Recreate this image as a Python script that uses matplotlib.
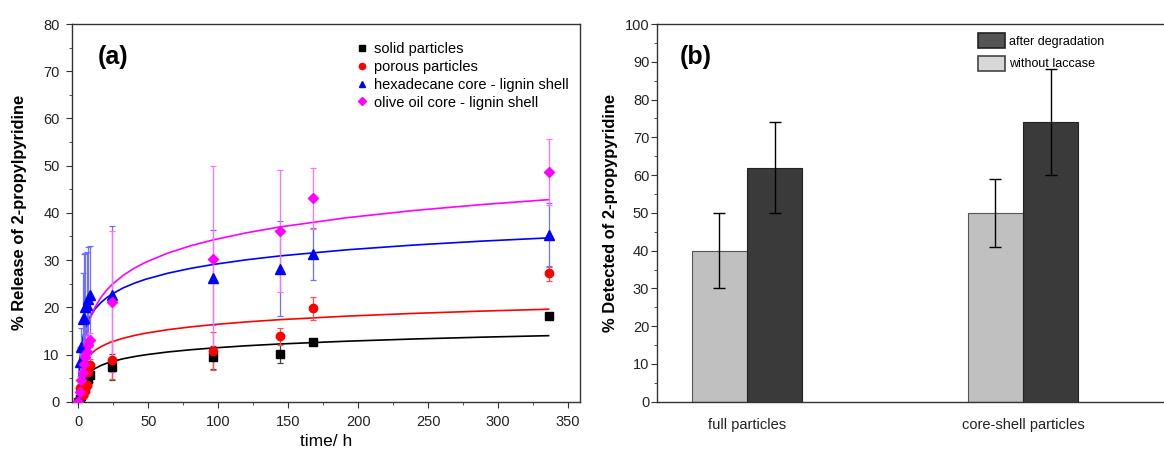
import matplotlib

matplotlib.use("Agg")
import matplotlib.pyplot as plt
from matplotlib.ticker import MultipleLocator
from matplotlib.patches import Patch
from matplotlib.lines import Line2D

plt.rcParams["font.family"] = ["Liberation Sans", "DejaVu Sans"]

# ---- panel (a): release kinetics ----
t_pts = [0, 1, 2, 3, 4, 5, 6, 7, 8, 24, 96, 144, 168, 336]
solid = [0.0, 0.5, 1.2, 2.0, 2.8, 3.5, 4.0, 4.8, 5.6, 7.4, 9.4, 10.2, 12.7, 18.2]
solid_err = [0.2, 0.4, 0.6, 0.8, 1.0, 1.2, 1.4, 1.5, 1.5, 2.8, 2.4, 2.0, 0.5, 0.6]
porous = [0.2, 2.8, 2.0, 1.5, 3.0, 2.2, 3.5, 6.2, 7.8, 8.8, 10.7, 13.9, 19.8, 27.2]
porous_err = [0.3, 1.0, 0.8, 0.6, 1.2, 1.0, 1.5, 1.5, 1.2, 4.0, 4.0, 1.8, 2.4, 1.6]
hexa = [0.5, 8.5, 11.6, 17.5, 17.8, 20.0, 20.5, 21.8, 22.6, 22.6, 26.3, 28.2, 31.3, 35.3]
hexa_err = [0.5, 3.0, 4.0, 9.7, 13.5, 11.5, 11.3, 10.9, 10.4, 14.6, 10.0, 10.0, 5.5, 6.8]
olive = [0.0, 2.0, 4.5, 6.0, 8.0, 9.5, 10.5, 12.0, 13.1, 21.2, 30.2, 36.2, 43.1, 48.6]
olive_err = [0.3, 1.0, 2.0, 2.5, 3.0, 2.5, 2.0, 2.0, 1.5, 15.0, 19.8, 12.9, 6.5, 7.0]

# fitted curves
fit_t = [0.5, 0.7, 1, 2, 4, 8, 12, 16, 20, 24, 32, 40, 48, 64, 80, 96, 120, 144,
         192, 240, 288, 336]
solid_fit = [0.45, 1.15, 1.89, 3.33, 4.77, 6.21, 7.05, 7.66, 8.12, 8.5, 9.1, 9.56,
             9.94, 10.54, 11.0, 11.38, 11.85, 12.23, 12.82, 13.29, 13.67, 13.99]
porous_fit = [2.6, 3.47, 4.41, 6.21, 8.02, 9.83, 10.89, 11.64, 12.22, 12.7, 13.45,
              14.03, 14.51, 15.26, 15.84, 16.32, 16.9, 17.38, 18.13, 18.71, 19.19, 19.59]
hexa_fit = [5.34, 6.86, 8.47, 11.59, 14.72, 17.84, 19.67, 20.97, 21.98, 22.8, 24.1,
            25.1, 25.93, 27.22, 28.23, 29.05, 30.06, 30.88, 32.18, 33.19, 34.01, 34.7]
olive_fit = [None, 0.69, 3.13, 7.85, 12.58, 17.3, 20.07, 22.04, 23.56, 24.8, 26.76,
             28.28, 29.53, 31.49, 33.01, 34.25, 35.77, 37.02, 38.98, 40.51, 41.75, 42.8]

# ---- panel (b): detected amount ----
groups = ["full particles", "core-shell particles"]
without_laccase = [40, 50]
without_err = [10, 9]
after_degr = [62, 74]
after_err = [12, 14]

fig = plt.figure(figsize=(11.64, 4.5), dpi=100)
ax1 = fig.add_axes([0.0619, 0.1073, 0.4364, 0.8393])
ax2 = fig.add_axes([0.5644, 0.1073, 0.4356, 0.8393])

series = [
    ("solid particles", solid, solid_err, solid_fit, "black", "s", "#444444", 5.5),
    ("porous particles", porous, porous_err, porous_fit, "red", "o", "#ff5050", 6),
    ("hexadecane core - lignin shell", hexa, hexa_err, hexa_fit, "blue", "^", "#7070ff", 6.5),
    ("olive oil core - lignin shell", olive, olive_err, olive_fit, "magenta", "D", "#ff70ff", 5.5),
]

for name, y, err, fit, col, mk, ecol, ms in series:
    ft = [t for t, v in zip(fit_t, fit) if v is not None]
    fv = [v for v in fit if v is not None]
    ax1.plot(ft, fv, color=col, lw=1.2, zorder=2)

leg_handles = []
for name, y, err, fit, col, mk, ecol, ms in series:
    ax1.errorbar(t_pts, y, yerr=err, fmt=mk, color=col, ms=ms, mec=col,
                 ecolor=ecol, elinewidth=0.9, capsize=2.5, capthick=0.9,
                 zorder=3)
    leg_handles.append(Line2D([], [], ls="none", marker=mk, color=col, ms=4.5, label=name))

ax1.set_xlim(-4.5, 358.5)
ax1.set_ylim(0, 80)
ax1.xaxis.set_major_locator(MultipleLocator(50))
ax1.xaxis.set_minor_locator(MultipleLocator(25))
ax1.yaxis.set_major_locator(MultipleLocator(10))
ax1.yaxis.set_minor_locator(MultipleLocator(5))
ax1.set_xlabel("time/ h", fontsize=12.5, labelpad=4)
ax1.set_ylabel("% Release of 2-propylpyridine", fontsize=11.9, fontweight="bold", labelpad=12)
ax1.text(0.051, 0.913, "(a)", transform=ax1.transAxes, fontsize=18,
         fontweight="bold", ha="left", va="center")
ax1.legend(handles=leg_handles, loc="upper left", bbox_to_anchor=(0.559, 0.952),
           frameon=False, fontsize=10.5, handlelength=0.8, handletextpad=0.4,
           labelspacing=0.26, borderpad=0, borderaxespad=0)

# bars
x = [0, 1]
w = 0.2
ax2.bar([p - w / 2 for p in x], without_laccase, w, yerr=without_err,
        color="#c0c0c0", edgecolor="#555555", linewidth=0.8,
        error_kw=dict(ecolor="black", elinewidth=1, capsize=4, capthick=1),
        zorder=2)
ax2.bar([p + w / 2 for p in x], after_degr, w, yerr=after_err,
        color="#3a3a3a", edgecolor="#222222", linewidth=0.8,
        error_kw=dict(ecolor="black", elinewidth=1, capsize=4, capthick=1),
        zorder=2)
ax2.set_xlim(-0.326, 1.511)
ax2.set_ylim(0, 100)
ax2.set_xticks(x)
ax2.set_xticklabels(groups, fontsize=11.5)
ax2.yaxis.set_major_locator(MultipleLocator(10))
ax2.yaxis.set_minor_locator(MultipleLocator(5))
ax2.set_ylabel("% Detected of 2-propypyridine", fontsize=11.9, fontweight="bold", labelpad=5)
ax2.text(0.045, 0.913, "(b)", transform=ax2.transAxes, fontsize=18,
         fontweight="bold", ha="left", va="center")
ax2.spines["right"].set_visible(False)
handles = [Patch(facecolor="#555555", edgecolor="#222222", lw=1.2),
           Patch(facecolor="#d8d8d8", edgecolor="#444444", lw=1.2)]
ax2.legend(handles, ["after degradation", "without laccase"], loc="upper left",
           bbox_to_anchor=(0.633, 0.975), frameon=False, fontsize=9,
           handlelength=2.2, handleheight=1.45, handletextpad=0.25,
           labelspacing=0.6, borderpad=0, borderaxespad=0)

for ax in (ax1, ax2):
    for s in ax.spines.values():
        s.set_color("#333333")
        s.set_linewidth(1.0)
    ax.tick_params(which="both", direction="out", colors="#333333", labelcolor="#222222")
    ax.tick_params(which="major", length=4, labelsize=10.5)
    ax.tick_params(which="minor", length=2.5)
ax1.tick_params(axis="x", which="major", pad=5.5)
ax1.tick_params(axis="y", which="major", pad=5)
ax2.tick_params(axis="y", which="major", pad=1.5)
ax2.tick_params(axis="x", which="both", length=0, pad=12)

plt.savefig("out.png", dpi=100)
